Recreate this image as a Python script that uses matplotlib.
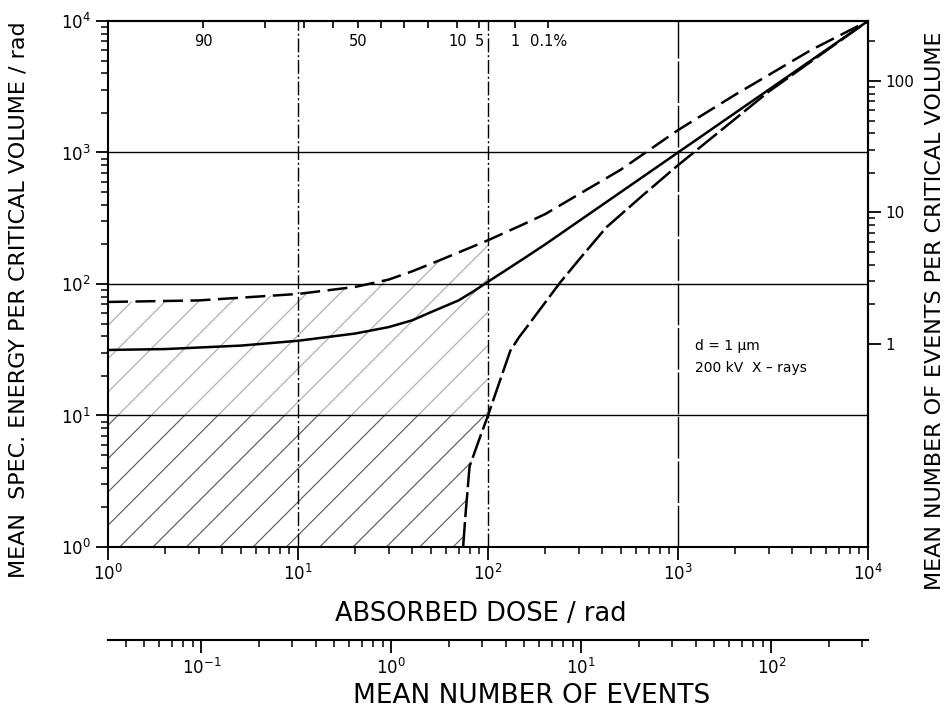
import matplotlib
matplotlib.use('Agg')
import matplotlib.pyplot as plt
import numpy as np
from matplotlib.ticker import FixedLocator, NullLocator, NullFormatter, FuncFormatter

plt.rcParams['font.family'] = 'DejaVu Sans'
plt.rcParams['mathtext.fontset'] = 'dejavusans'
plt.rcParams['hatch.linewidth'] = 0.9

# mean specific energy per event (rad), used for the event scales
ZF_BOTTOM = 31.0
ZF_RIGHT = 35.0
ZF_PCT = 30.0

# solid curve: mean specific energy per critical volume
dose_mean = [1, 2, 5, 10, 20, 30, 40, 50, 70, 85, 100, 150, 200, 500, 1000, 2000, 5000, 10000]
z_mean = [31.5, 32, 34, 37, 42, 47, 53, 61, 75, 89, 104, 152, 200, 500, 1000, 2000, 5000, 10000]

# upper dashed curve
dose_upper = [1, 3, 10, 20, 30, 40, 56, 100, 150, 200, 300, 500, 1000, 2000, 5000, 10000]
z_upper = [73, 75, 84, 95, 108, 125, 152, 215, 280, 340, 480, 740, 1480, 2750, 6000, 10000]

# lower dashed curve
dose_lower = [74, 76, 80, 90, 100, 115, 131, 145, 160, 239, 300, 420, 650, 1000, 3000, 10000]
z_lower = [1.0, 1.7, 4.1, 6.6, 10, 18, 31, 39, 47, 102, 152, 270, 470, 800, 2900, 10000]

# probability of no event (%) marked on the top edge
pct_ticks = [90, 80, 70, 60, 50, 40, 30, 20, 10, 5, 1, 0.1]
pct_labels = ['90', '', '', '', '50', '', '', '', '10', '5', '1', '0.1%']

# event scale ticks
events_major = [0.1, 1, 10, 100]
events_minor = [v * k for v in (0.01, 0.1, 1, 10, 100) for k in range(2, 10)]
right_major = [1, 10, 100]
right_minor = [v * k for v in (1, 10, 100) for k in range(2, 10) if v * k <= 280]

grid_d = [1e1, 1e2, 1e3]
grid_z = [1e1, 1e2, 1e3]

fig = plt.figure(figsize=(9.48, 7.14), dpi=100)
ax = fig.add_axes([0.1139, 0.2339, 0.8017, 0.7367])
ax.set_xscale('log')
ax.set_yscale('log')
ax.set_xlim(1, 1e4)
ax.set_ylim(1, 1e4)

# hatched area left of the lower curve
lo_d = np.array(dose_lower)
lo_z = np.array(z_lower)
m = lo_d <= 100
ax.fill(np.concatenate([[1, 1], lo_d[m][::-1]]),
        np.concatenate([[1, 10], lo_z[m][::-1]]),
        facecolor='none', edgecolor='#666666', hatch='/', linewidth=0)
up_d = np.array(dose_upper)
up_z = np.array(z_upper)
mu = up_d <= 100
ax.fill(np.concatenate([[1], up_d[mu], [100]]),
        np.concatenate([[10], up_z[mu], [10]]),
        facecolor='none', edgecolor='#b0b0b0', hatch='/', linewidth=0)

# grid lines
for z in grid_z:
    ax.axhline(z, color='black', linewidth=1.0)
ax.axvline(grid_d[0], color='black', linewidth=1.0, dashes=(10, 2, 1.5, 2))
ax.axvline(grid_d[1], color='black', linewidth=1.0, dashes=(10, 2, 1.5, 2))
ax.axvline(grid_d[2], color='black', linewidth=1.0, dashes=(30, 2))

# curves
ax.plot(dose_mean, z_mean, color='black', linewidth=1.8)
ax.plot(dose_upper, z_upper, color='black', linewidth=1.8, dashes=(8, 3))
ax.plot(dose_lower, z_lower, color='black', linewidth=1.8, dashes=(10, 2))

ax.text(1230, 34, 'd = 1 \u03bcm', fontsize=10, va='center', ha='left')
ax.text(1230, 23, '200 kV  X \u2013 rays', fontsize=10, va='center', ha='left')

for s in ax.spines.values():
    s.set_linewidth(1.5)
ax.tick_params(axis='both', which='major', direction='out', length=9, width=1.3,
               labelsize=12, top=False, right=False)
ax.tick_params(axis='both', which='minor', direction='out', length=5, width=1.1,
               top=False, right=False)
ax.tick_params(axis='x', which='major', pad=3)
ax.yaxis.set_minor_formatter(NullFormatter())
ax.xaxis.set_minor_formatter(NullFormatter())

ax.set_xlabel('ABSORBED DOSE / rad', fontsize=18.5)
ax.xaxis.set_label_coords(0.49, -0.103)
ax.set_ylabel('MEAN  SPEC. ENERGY PER CRITICAL VOLUME / rad', fontsize=16)
ax.yaxis.set_label_coords(-0.105, 0.47)

# top: percentage of volumes without event
pct_d = -ZF_PCT * np.log(np.array(pct_ticks) / 100.0)
sec_t = ax.secondary_xaxis('top')
sec_t.xaxis.set_major_locator(FixedLocator(pct_d))
sec_t.xaxis.set_major_formatter(FuncFormatter(lambda v, p: pct_labels[p] if p is not None and p < len(pct_labels) else ''))
sec_t.xaxis.set_minor_locator(NullLocator())
sec_t.tick_params(axis='x', which='major', direction='in', length=5, width=1.2,
                  labelsize=10.5, pad=-20)
sec_t.spines['top'].set_linewidth(1.5)

# right: mean number of events per critical volume
sec_r = ax.secondary_yaxis('right', functions=(lambda z: z / ZF_RIGHT, lambda n: n * ZF_RIGHT))
sec_r.yaxis.set_major_locator(FixedLocator(right_major))
sec_r.yaxis.set_minor_locator(FixedLocator(right_minor))
sec_r.yaxis.set_major_formatter(FuncFormatter(lambda v, p: f'{v:g}'))
sec_r.yaxis.set_minor_formatter(NullFormatter())
sec_r.tick_params(axis='y', which='major', direction='out', length=9, width=1.3, labelsize=11)
sec_r.tick_params(axis='y', which='minor', direction='out', length=5, width=1.1)
sec_r.spines['right'].set_linewidth(1.5)
sec_r.set_ylabel('MEAN NUMBER OF EVENTS PER CRITICAL VOLUME', fontsize=16, labelpad=8)
sec_r.yaxis.label.set_y(0.45)

# bottom: mean number of events
sec_b = ax.secondary_xaxis(-0.177, functions=(lambda d: d / ZF_BOTTOM, lambda n: n * ZF_BOTTOM))
lo_ev, hi_ev = 1 / ZF_BOTTOM, 1e4 / ZF_BOTTOM
sec_b.xaxis.set_major_locator(FixedLocator(events_major))
sec_b.xaxis.set_minor_locator(FixedLocator([v for v in events_minor if lo_ev <= v <= hi_ev]))
sec_b.xaxis.set_major_formatter(FuncFormatter(lambda v, p: f'$10^{{{int(round(np.log10(v)))}}}$'))
sec_b.xaxis.set_minor_formatter(NullFormatter())
sec_b.tick_params(axis='x', which='major', direction='out', length=9, width=1.3, labelsize=12)
sec_b.tick_params(axis='x', which='minor', direction='out', length=5, width=1.1)
sec_b.spines['bottom'].set_linewidth(1.5)
sec_b.set_xlabel('MEAN NUMBER OF EVENTS', fontsize=19, labelpad=4)
sec_b.xaxis.label.set_x(0.558)

fig.savefig('out.png', dpi=100)
